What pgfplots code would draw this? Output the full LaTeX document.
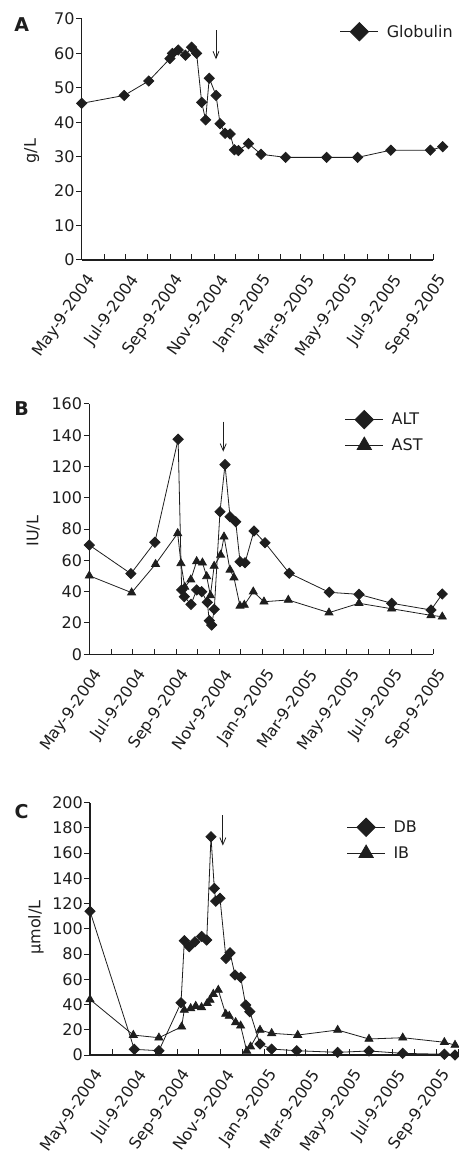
\documentclass[border=0pt]{standalone}
\usepackage{pgfplots}
\pgfplotsset{compat=1.18}
\usepackage{fontspec}
\setmainfont{DejaVu Sans}
\usetikzlibrary{arrows.meta}
\definecolor{ink}{RGB}{30,30,30}
\pgfplotsset{
  base/.style={
    scale only axis, clip=false,
    axis x line*=bottom, axis y line*=left,
    axis line style={ink, line width=1.1bp, -},
    tick align=inside,
    major tick length=5.5bp,
    every tick/.append style={ink, line width=1bp},
    every y tick/.append style={xshift=-5.5bp},
    xmin=0, ymin=0,
    font=\fontsize{16bp}{19bp}\selectfont,
    /pgf/number format/assume math mode=true,
    yticklabel style={anchor=east, inner sep=0pt, xshift=-7bp, text=ink},
    xticklabel style={inner sep=0pt, anchor=east, xshift=10bp, yshift=-17bp, rotate=55, text=ink},
    xtick={0,31,61,92,123,153,184,214,245,276,304,335,365,396,426,457,488},
    xticklabels={May-9-2004,,Jul-9-2004,,Sep-9-2004,,Nov-9-2004,,Jan-9-2005,,Mar-9-2005,,May-9-2005,,Jul-9-2005,,Sep-9-2005},
    every axis plot/.append style={ink, line width=0.8bp},
    legend style={draw=none, fill=none, inner sep=0pt, outer sep=0pt, column sep=8bp,
      nodes={inner sep=0pt, outer sep=0pt, text=ink, draw=none, fill=none}, font=\fontsize{16bp}{19bp}\selectfont},
    legend cell align=left,
    legend image code/.code={%
      \path[draw=none,fill=none] (0bp,-9.5bp) rectangle (38bp,9.5bp);
      \draw[mark repeat=2,mark phase=2,##1,/tikz/every mark/.append style={scale=1.8}]
        plot coordinates {(0bp,0bp) (19bp,0bp) (38bp,0bp)};},
    ylabel style={text=ink, anchor=center},
  },
  dia/.style={mark=square*, mark options={rotate=45, fill=ink, draw=ink}, mark size=3.6bp},
  tri/.style={mark=triangle*, mark options={fill=ink, draw=ink}, mark size=4.6bp},
}
\begin{document}
\begin{tikzpicture}
\useasboundingbox (0bp,0bp) rectangle (459bp,1155bp);

% Panel A
\begin{axis}[base, at={(81.7bp,895bp)}, anchor=south west, width=351.6bp, height=241bp,
  xmax=488, ymax=70, ytick={0,10,...,70},
  ylabel={g/L}, ylabel style={at={(axis description cs:-0.142,0.452)}},
  legend style={at={(axis description cs:0.7346,0.9473)}, anchor=west}]
\addplot[dia] coordinates {
(0,45.5) (59,47.8) (93,52) (122.5,58.5) (126,60) (134,61) (144,59.5) (152.5,61.8)
(159.5,60) (166.5,45.8) (172,40.7) (177,52.8) (186.5,47.8) (192,39.6) (199,36.8)
(206,36.6) (212,32) (217.5,31.8) (231.5,33.8) (249,30.7) (283,29.8) (340,29.8)
(383,29.8) (429,31.9) (484,31.9) (501,32.9)};
\addlegendentry{Globulin}
\draw[ink, line width=0.8bp, -{Straight Barb[length=7bp,width=6bp]}] (axis cs:186.4,66.8) -- (axis cs:186.4,58.3);
\end{axis}

% Panel B
\begin{axis}[base, at={(89.3bp,500.7bp)}, anchor=south west, width=344bp, height=250.4bp,
  xmax=488, ymax=160, ytick={0,20,...,160},
  ylabel={IU/L}, ylabel style={at={(axis description cs:-0.163,0.492)}},
  legend style={at={(axis description cs:0.743,0.975)}, anchor=north west, row sep=6.7bp}]
\addplot[dia] coordinates {
(0,69.8) (59,51.5) (93,71.6) (126,137.4) (131,41.1) (134.8,36.8) (144.3,31.9)
(152.3,41.1) (159.4,40) (167.4,33.2) (170.2,21.5) (173.6,18.7) (177.3,28.8)
(185.4,91.1) (192.5,121.2) (199.6,87.9) (207.7,84.7) (213.8,59.2) (220.9,58.5)
(233.6,78.8) (249.2,71.3) (283.7,51.8) (340.4,39.6) (382.6,38.3) (428.9,32.6)
(484.7,28.3) (500.7,38.5)};
\addlegendentry{ALT}
\addplot[tri] coordinates {
(0,50.2) (60,39.4) (94,57.6) (125.4,77.3) (130,58.1) (135.5,43) (144,47.7)
(152.3,59.4) (160.5,58.5) (166.5,49.8) (171.8,37.6) (177.1,56.4) (186.4,63.5)
(191.1,75.1) (199.6,53.9) (205.2,49) (213.8,30.9) (219.9,31.5) (232.6,40)
(247.8,33.6) (282.3,34.7) (340,26.6) (382.6,32.6) (428.9,29.1) (484.7,24.9)
(500.7,24)};
\addlegendentry{AST}
\draw[ink, line width=0.8bp, -{Straight Barb[length=7bp,width=6bp]}] (axis cs:190,148.6) -- (axis cs:190,129.5);
\end{axis}

% Panel C
\begin{axis}[base, at={(90bp,100bp)}, anchor=south west, width=368bp, height=252.3bp,
  xmax=518, ymax=200, ytick={0,20,...,200},
  xtick={0,31,61,92,123,153,184,214,245,276,304,335,365,396,426,457,488,518},
  xticklabels={May-9-2004,,Jul-9-2004,,Sep-9-2004,,Nov-9-2004,,Jan-9-2005,,Mar-9-2005,,May-9-2005,,Jul-9-2005,,Sep-9-2005,},
  ylabel={µmol/L}, ylabel style={at={(axis description cs:-0.147,0.505)}},
  legend style={at={(axis description cs:0.6976,0.940)}, anchor=north west, row sep=7bp}]
\addplot[dia] coordinates {
(0,114) (62.4,4.5) (97,3.4) (128.1,41.4) (132.8,90.6) (139.8,85.8) (147.8,89.8)
(157.2,94) (164.3,91.1) (170.3,173) (175,132) (177,122) (183,124.2) (191.4,76.6)
(197.1,81) (204.1,63.4) (212.1,61.6) (219.1,39.6) (225,34.3) (239.3,8.7)
(255.7,4.7) (291,3.4) (348.6,2.1) (392.7,3.2) (440.2,1.3) (498.8,0.6) (513.8,0)};
\addlegendentry{DB}
\addplot[tri] coordinates {
(0,44) (61,15.8) (97,13.7) (129,22.4) (132.7,35.7) (141.7,37) (148.8,38.8)
(157,37.8) (165,41) (169,43.6) (173.6,48.3) (180.6,51.5) (191,32.5) (196,30.9)
(205,25.9) (212,23.2) (220.6,3.2) (226,6.6) (239.3,19.8) (255.7,17.2)
(292.4,15.8) (348.6,19.8) (392.7,12.7) (440.2,13.7) (498.8,10.1) (513.8,7.9)};
\addlegendentry{IB}
\draw[ink, line width=0.8bp, -{Straight Barb[length=7bp,width=6bp]}] (axis cs:187,190) -- (axis cs:187,166);
\end{axis}

\node[font=\bfseries\fontsize{19bp}{22bp}\selectfont, text=ink] at (21.7bp,1130bp) {A};
\node[font=\bfseries\fontsize{19bp}{22bp}\selectfont, text=ink] at (21.7bp,746.3bp) {B};
\node[font=\bfseries\fontsize{19bp}{22bp}\selectfont, text=ink] at (21.7bp,343.3bp) {C};
\end{tikzpicture}
\end{document}
